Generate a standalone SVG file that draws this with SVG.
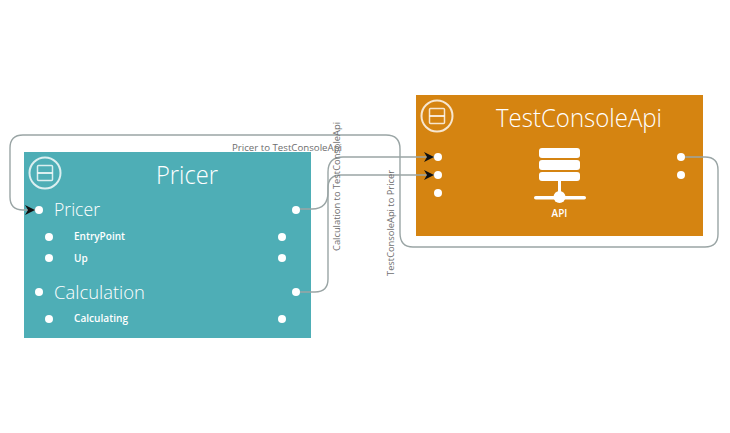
<svg xmlns="http://www.w3.org/2000/svg" width="730" height="433" viewBox="0 0 730 433">
<style>
text{font-family:"Open Sans","Noto Sans","Liberation Sans",sans-serif;fill:#fff}
.t{font-size:26px;font-weight:300}
.h{font-size:19px;font-weight:300}
.s{font-size:10px;font-weight:600}
.c{fill:none;stroke:#9aa5a5;stroke-width:1.4}
.l{font-size:9.5px;fill:#6e6e6e}
.d{fill:#fff}
.ic{fill:none;stroke:#fff;stroke-opacity:.8}
</style>
<defs>
<marker id="a" markerUnits="userSpaceOnUse" markerWidth="12" markerHeight="10" refX="10" refY="5" orient="auto"><path d="M0 0L10 5L0 10L3 5Z" fill="#111"/></marker>
</defs>
<g id="node-pricer">
<rect x="24" y="152" width="287" height="186" fill="#4eaeb6"/>
<circle class="ic" cx="45" cy="173" r="15.500" stroke-width="2"/>
<rect class="ic" x="37.500" y="165.500" width="15" height="15" rx="1" stroke-width="1.500"/>
<path class="ic" d="M37.500 173H52.500" stroke-width="2"/>
<text class="t" x="156" y="183.500" textLength="62" lengthAdjust="spacingAndGlyphs">Pricer</text>
<text class="h" x="54" y="216" textLength="46" lengthAdjust="spacingAndGlyphs">Pricer</text>
<text class="h" x="54" y="299" textLength="91" lengthAdjust="spacingAndGlyphs">Calculation</text>
<text class="s" x="74" y="240" textLength="51" lengthAdjust="spacingAndGlyphs">EntryPoint</text>
<text class="s" x="74" y="262">Up</text>
<text class="s" x="74" y="322" textLength="54" lengthAdjust="spacingAndGlyphs">Calculating</text>
<circle class="d" cx="39" cy="210" r="4"/><circle class="d" cx="296" cy="210" r="4"/>
<circle class="d" cx="49" cy="237" r="4"/><circle class="d" cx="282" cy="237" r="4"/>
<circle class="d" cx="49" cy="258" r="4"/><circle class="d" cx="282" cy="258" r="4"/>
<circle class="d" cx="39" cy="292" r="4"/><circle class="d" cx="296" cy="292" r="4"/>
<circle class="d" cx="49" cy="319" r="4"/><circle class="d" cx="282" cy="319" r="4"/>
</g>
<g id="node-testconsoleapi">
<rect x="416" y="95" width="287" height="141" fill="#d58411"/>
<circle class="ic" cx="437" cy="116" r="15.500" stroke-width="2"/>
<rect class="ic" x="429.500" y="108.500" width="15" height="15" rx="1" stroke-width="1.500"/>
<path class="ic" d="M429.500 116H444.500" stroke-width="2"/>
<text class="t" x="496" y="126.500" textLength="166" lengthAdjust="spacingAndGlyphs">TestConsoleApi</text>
<circle class="d" cx="438" cy="157" r="4"/><circle class="d" cx="438" cy="175" r="4"/><circle class="d" cx="438" cy="193" r="4"/>
<circle class="d" cx="681" cy="157" r="4"/><circle class="d" cx="681" cy="175" r="4"/>
<rect class="d" x="539" y="148" width="41" height="10" rx="3"/>
<rect class="d" x="539" y="160" width="41" height="10" rx="3"/>
<rect class="d" x="539" y="172" width="41" height="9" rx="3"/>
<rect class="d" x="558" y="181" width="3" height="12"/>
<rect class="d" x="534" y="196" width="52" height="3.500" rx="1.750"/>
<circle class="d" cx="559.500" cy="197" r="6"/>
<text class="s" x="559.500" y="217" text-anchor="middle">API</text>
</g>
<g id="connectors">
<path class="c" marker-end="url(#a)" d="M685 157H705Q718 157 718 170V234Q718 247 705 247H413Q400 247 400 233V149Q400 135 386 135H23Q10 135 10 148V197Q10 210 23 210H35"/>
<path class="c" marker-end="url(#a)" d="M300 209H312Q328 209 328 192V172Q328 157 343 157H434"/>
<path class="c" marker-end="url(#a)" d="M300 292H315Q328 292 328 279V188Q328 175 341 175H434"/>
<text class="l" x="232" y="151" textLength="110" lengthAdjust="spacingAndGlyphs">Pricer to TestConsoleApi</text>
<text class="l" transform="translate(340 251) rotate(-90)" textLength="129" lengthAdjust="spacingAndGlyphs">Calculation to TestConsoleApi</text>
<text class="l" transform="translate(394 276) rotate(-90)" textLength="106" lengthAdjust="spacingAndGlyphs">TestConsoleApi to Pricer</text>
</g>
</svg>
